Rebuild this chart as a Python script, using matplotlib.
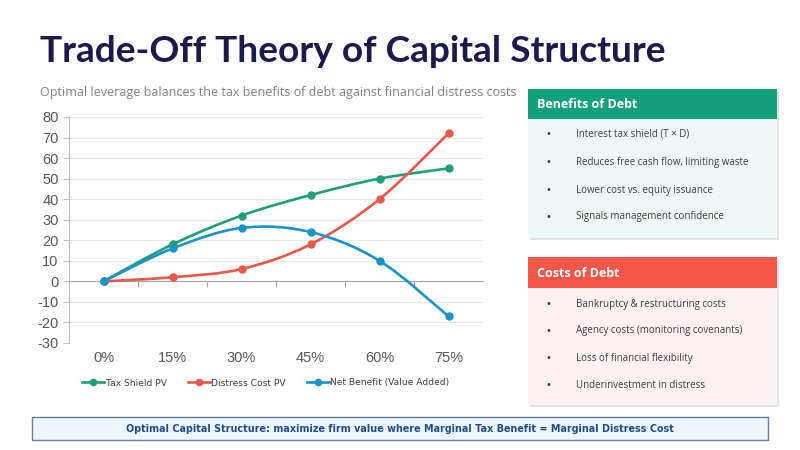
import matplotlib
matplotlib.use("Agg")
import matplotlib.pyplot as plt
from matplotlib.path import Path
from matplotlib.patches import PathPatch, Rectangle
from matplotlib.lines import Line2D
from matplotlib.transforms import blended_transform_factory
import numpy as np

plt.rcParams["axes.unicode_minus"] = False

# ---- data ----
categories = ["0%", "15%", "30%", "45%", "60%", "75%"]
tax_shield = [0, 18, 32, 42, 50, 55]
distress_cost = [0, 2, 6, 18, 40, 72]
net_benefit = [0, 16, 26, 24, 10, -17]
series_names = ["Tax Shield PV", "Distress Cost PV", "Net Benefit (Value Added)"]
series_colors = ["#1F9E78", "#E8574B", "#1A93C5"]
y_ticks = list(range(-30, 81, 10))

title = "Trade-Off Theory of Capital Structure"
subtitle = "Optimal leverage balances the tax benefits of debt against financial distress costs"
benefits_title = "Benefits of Debt"
benefits = ["Interest tax shield (T \u00d7 D)", "Reduces free cash flow, limiting waste",
            "Lower cost vs. equity issuance", "Signals management confidence"]
costs_title = "Costs of Debt"
costs = ["Bankruptcy & restructuring costs", "Agency costs (monitoring covenants)",
         "Loss of financial flexibility", "Underinvestment in distress"]
footer = "Optimal Capital Structure: maximize firm value where Marginal Tax Benefit = Marginal Distress Cost"

W, H = 800, 450
fig = plt.figure(figsize=(8, 4.5), dpi=100)
fig.patch.set_facecolor("white")

# overlay axes in pixel coordinates
ov = fig.add_axes([0, 0, 1, 1])
ov.set_xlim(0, W)
ov.set_ylim(H, 0)
ov.axis("off")

renderer = fig.canvas.get_renderer()

def fit_text(ax, x, y, s, target_w, ha="left", va="baseline", **kw):
    t = ax.text(x, y, s, ha=ha, va=va, **kw)
    bb = t.get_window_extent(renderer)
    t.set_fontsize(t.get_fontsize() * target_w / bb.width)
    return t

# title
fit_text(ov, 40, 62, title, 627, fontsize=24, fontweight="bold",
         color="#1B1A4B", family=["Lato", "DejaVu Sans"])
fit_text(ov, 40, 96, subtitle, 477, fontsize=9.5, color="#808080",
         family=["Open Sans", "DejaVu Sans"])

def panel(x0, x1, yh0, yh1, yb1, head_col, body_col, head_text, items, row_y):
    # shadow
    ov.add_patch(Rectangle((x0 + 1.5, yh0 + 1.5), x1 - x0, yb1 - yh0,
                           facecolor="#E4E4E4", edgecolor="none", zorder=1))
    ov.add_patch(Rectangle((x0, yh1), x1 - x0, yb1 - yh1,
                           facecolor=body_col, edgecolor="none", zorder=2))
    ov.add_patch(Rectangle((x0, yh0), x1 - x0, yh1 - yh0,
                           facecolor=head_col, edgecolor="none", zorder=3))
    ov.text(x0 + 9, (yh0 + yh1) / 2 + 1, head_text, ha="left", va="center",
            fontsize=9.0, fontweight="bold", color="white",
            family=["Open Sans", "DejaVu Sans"], zorder=4)
    for yy, s in zip(row_y, items):
        ov.text(x0 + 20, yy, "\u2022", ha="center", va="center", fontsize=7,
                color="#404040", zorder=4)
        ov.text(x0 + 48, yy, s, ha="left", va="center", fontsize=7,
                color="#404040", family=["Open Sans", "DejaVu Sans"], zorder=4)

panel(528, 777, 89, 119, 238, "#14A07B", "#EFF8F7", benefits_title, benefits,
      [134, 162, 190, 217])
panel(528, 777, 257, 288, 405, "#F5564A", "#FDF2F3", costs_title, costs,
      [304, 331, 358, 385])

# footer box
ov.add_patch(Rectangle((32, 417), 736, 23, facecolor="#EEF5FE",
                       edgecolor="#6A7C96", linewidth=1.0, zorder=2))
fit_text(ov, 400, 428.5, footer, 546, ha="center", va="center", fontsize=8.5,
         fontweight="bold", color="#1F4E8C", family=["DejaVu Sans"], zorder=3)

# ---- chart ----
ax = fig.add_axes([69 / W, (H - 343) / H, 414 / W, 226 / H])
ax.set_facecolor("none")
x = np.arange(len(categories))

def smooth_path(xs, ys):
    pts = np.column_stack([xs, ys]).astype(float)
    ext = np.vstack([pts[0], pts, pts[-1]])
    verts = [pts[0]]
    codes = [Path.MOVETO]
    for i in range(len(pts) - 1):
        p0, p1, p2, p3 = ext[i], ext[i + 1], ext[i + 2], ext[i + 3]
        c1 = p1 + (p2 - p0) / 6.0
        c2 = p2 - (p3 - p1) / 6.0
        verts += [c1, c2, p2]
        codes += [Path.CURVE4] * 3
    return Path(verts, codes)

handles = []
for vals, name, col in zip([tax_shield, distress_cost, net_benefit], series_names, series_colors):
    ax.add_patch(PathPatch(smooth_path(x, vals), facecolor="none", edgecolor=col,
                           linewidth=1.9, zorder=3, capstyle="round"))
    ax.plot(x, vals, linestyle="none", marker="o", markersize=5, color=col, zorder=4)
    handles.append(Line2D([0], [0], color=col, linewidth=1.9, marker="o", markersize=4.5))

ax.set_xlim(-0.5, len(categories) - 0.5)
ax.set_ylim(-30, 80)
ax.set_yticks(y_ticks)
ax.yaxis.grid(True, color="#E8E8E8", linewidth=0.8)
ax.set_axisbelow(True)
for sp in ["top", "right"]:
    ax.spines[sp].set_visible(False)
ax.spines["left"].set_color("#BFBFBF")
ax.spines["bottom"].set_position(("data", 0))
ax.spines["bottom"].set_color("#A6A6A6")
ax.tick_params(axis="y", colors="#BFBFBF", labelcolor="#595959", labelsize=10.5,
               length=4, width=0.8)
for lab in ax.get_yticklabels():
    lab.set_family(["Liberation Sans", "DejaVu Sans"])
ax.set_xticks(x)
ax.set_xticklabels([])
ax.tick_params(axis="x", which="major", length=0)
ax.set_xticks(x[:-1] + 0.5, minor=True)
ax.tick_params(axis="x", which="minor", length=4, direction="out", color="#A6A6A6", width=0.8)
trans = blended_transform_factory(ax.transData, ax.transAxes)
for xi, c in zip(x, categories):
    ax.text(xi, -0.065, c, transform=trans, ha="center", va="center", fontsize=10.5,
            color="#595959", family=["Liberation Sans", "DejaVu Sans"])

leg = fig.legend(handles, series_names, loc="center", bbox_to_anchor=(266 / W, 1 - 383 / H),
                 ncol=3, frameon=False, fontsize=6.6, handlelength=2.4, columnspacing=2.3,
                 handletextpad=0.15)
for t in leg.get_texts():
    t.set_color("#404040")

fig.savefig("out.png", dpi=100, facecolor="white")
